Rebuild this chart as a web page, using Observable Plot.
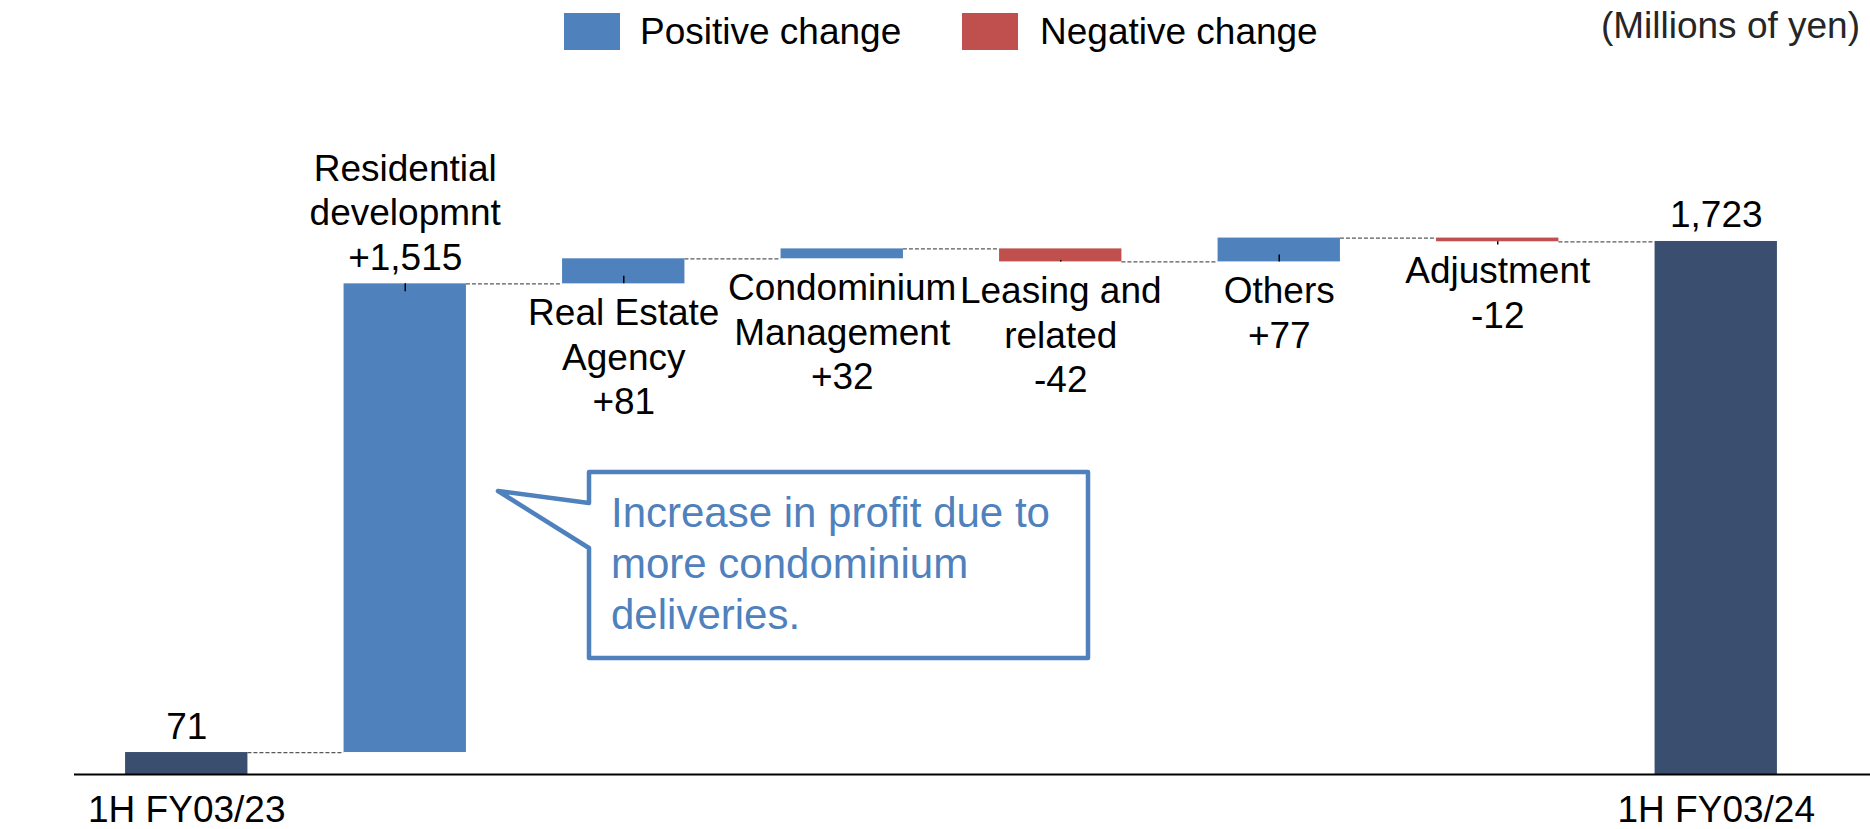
<!DOCTYPE html>
<html><head><meta charset="utf-8">
<script src="https://cdn.jsdelivr.net/npm/d3@7"></script>
<script src="https://cdn.jsdelivr.net/npm/@observablehq/plot@0.6"></script>
<style>
body{margin:0;background:#fff;font-family:"Liberation Sans",Arial,Helvetica,sans-serif;}
#legend{position:relative;height:60px;width:1870px;}
.sw{position:absolute;top:13px;width:56px;height:37px;}
.lt{position:absolute;top:13px;height:37px;line-height:37px;font-size:37px;color:#000;white-space:nowrap;}
.unit{position:absolute;top:7px;right:10px;height:37px;line-height:37px;font-size:37px;color:#262626;white-space:nowrap;}
</style></head><body>
<div id="legend"></div>
<div id="chart"></div>
<script>
// ---- data ----
const categories = ["1H FY03/23", "Residential development", "Real Estate Agency", "Condominium Management", "Leasing and related", "Others", "Adjustment", "1H FY03/24"];
const values = [71, 1515, 81, 32, -42, 77, -12, 1723];
const kinds = ["total", "change", "change", "change", "change", "change", "change", "total"];
const barLabels = ["71", "Residential\ndevelopmnt\n+1,515", "Real Estate\nAgency\n+81", "Condominium\nManagement\n+32", "Leasing and\nrelated\n-42", "Others\n+77", "Adjustment\n-12", "1,723"];
const axisLabels = ["1H FY03/23", "1H FY03/24"];
const legendItems = ["Positive change", "Negative change"];
const unitNote = "(Millions of yen)";
const calloutLines = ["Increase in profit due to", "more condominium", "deliveries."];

// ---- colours ----
const colors = {total: "#3A4E6F", pos: "#4F81BD", neg: "#C0504D"};

// ---- legend (HTML above the svg) ----
const legend = document.getElementById("legend");
const legendPos = [{sw: 564, tx: 640, c: colors.pos}, {sw: 962, tx: 1040, c: colors.neg}];
legendItems.forEach((t, i) => {
  const s = document.createElement("div"); s.className = "sw";
  s.style.left = legendPos[i].sw + "px"; s.style.background = legendPos[i].c; legend.appendChild(s);
  const l = document.createElement("div"); l.className = "lt";
  l.style.left = legendPos[i].tx + "px"; l.textContent = t; legend.appendChild(l);
});
const u = document.createElement("div"); u.className = "unit"; u.textContent = unitNote; legend.appendChild(u);

// ---- waterfall rows ----
let run = 0;
const rows = categories.map((c, i) => {
  const v = values[i];
  let y1, y2;
  if (kinds[i] === "total") { y1 = 0; y2 = v; run = v; }
  else { y1 = run; y2 = run + v; run += v; }
  const type = kinds[i] === "total" ? "total" : (v >= 0 ? "pos" : "neg");
  return {cat: c, v, y1, y2, lo: Math.min(y1, y2), hi: Math.max(y1, y2), type, label: barLabels[i], idx: i};
});
const links = rows.slice(0, -1).map((r, i) => ({from: r.cat, to: rows[i + 1].cat, y: r.y2}));
const isAbove = r => r.type === "total" || Math.abs(r.v) > 200;
const above = rows.filter(isAbove);
const below = rows.filter(r => !isAbove(r));
const changes = rows.filter(r => r.type !== "total");
const tickRows = changes.map(r => {
  const up = Math.abs(r.v) > 200;
  const inside = Math.min(Math.abs(r.v) / 2, 45);
  return up ? {cat: r.cat, a: r.hi - inside, b: r.hi, up} : {cat: r.cat, a: r.lo, b: r.lo + inside, up};
});
const bottomRows = rows.filter(r => axisLabels.includes(r.cat));

// ---- layout ----
const W = 1870, H = 769, mL = 77, mR = 45, mB = 55, mT = 0;
const step = (W - mL - mR) / categories.length;
const bw = step * 0.56;
const font = "Liberation Sans, Arial, Helvetica, sans-serif";

function callout() {
  const g = d3.create("svg:g");
  const bx0 = 589, bx1 = 1088, by0 = 412, by1 = 598, ny0 = 443, ny1 = 488, tx = 498, ty = 431;
  g.append("path")
    .attr("d", `M${bx0},${by0}H${bx1}V${by1}H${bx0}V${ny1}L${tx},${ty}L${bx0},${ny0}Z`)
    .attr("fill", "#fff").attr("stroke", colors.pos).attr("stroke-width", 4.5).attr("stroke-linejoin", "round");
  const t = g.append("text").attr("font-family", font).attr("font-size", 42)
    .attr("fill", colors.pos).attr("text-anchor", "start");
  calloutLines.forEach((line, i) => {
    t.append("tspan").attr("x", 611).attr("y", 467 + i * 51).text(line);
  });
  return g.node();
}

const chart = Plot.plot({
  width: W, height: H,
  marginLeft: mL, marginRight: mR, marginTop: mT, marginBottom: mB,
  style: {fontFamily: font, background: "#fff", color: "#000"},
  x: {domain: categories, paddingInner: 0.44, paddingOuter: 0.22, round: false, axis: null},
  y: {domain: [0, 2308], axis: null},
  color: {domain: ["total", "pos", "neg"], range: [colors.total, colors.pos, colors.neg]},
  marks: [
    Plot.ruleY(links, {x1: "from", x2: "to", y: "y", insetLeft: bw, insetRight: bw, stroke: "#595959", strokeWidth: 1.3, strokeDasharray: "4,2"}),
    Plot.barY(rows, {x: "cat", y1: "y1", y2: "y2", fill: "type", insetLeft: 0, insetRight: 0}),
    Plot.ruleY([0], {stroke: "#000", strokeWidth: 2, insetLeft: -3, insetRight: -mR}),
    Plot.ruleX(tickRows.filter(d => !d.up), {x: "cat", y1: "a", y2: "b", stroke: "#000", strokeWidth: 1.5, insetBottom: -5}),
    Plot.ruleX(tickRows.filter(d => d.up), {x: "cat", y1: "a", y2: "b", stroke: "#000", strokeWidth: 1.5, insetTop: -6}),
    Plot.text(above, {x: "cat", y: "hi", text: "label", lineAnchor: "bottom", dy: -14, fontSize: 37, lineHeight: 1.2, fill: "#000"}),
    Plot.text(below, {x: "cat", y: "lo", text: "label", lineAnchor: "top", dy: 10, fontSize: 37, lineHeight: 1.2, fill: "#000"}),
    Plot.text(bottomRows, {x: "cat", frameAnchor: "bottom", text: "cat", lineAnchor: "top", dy: 21, fontSize: 37, fill: "#000"}),
    callout
  ]
});
document.getElementById("chart").appendChild(chart);
</script>
</body></html>
